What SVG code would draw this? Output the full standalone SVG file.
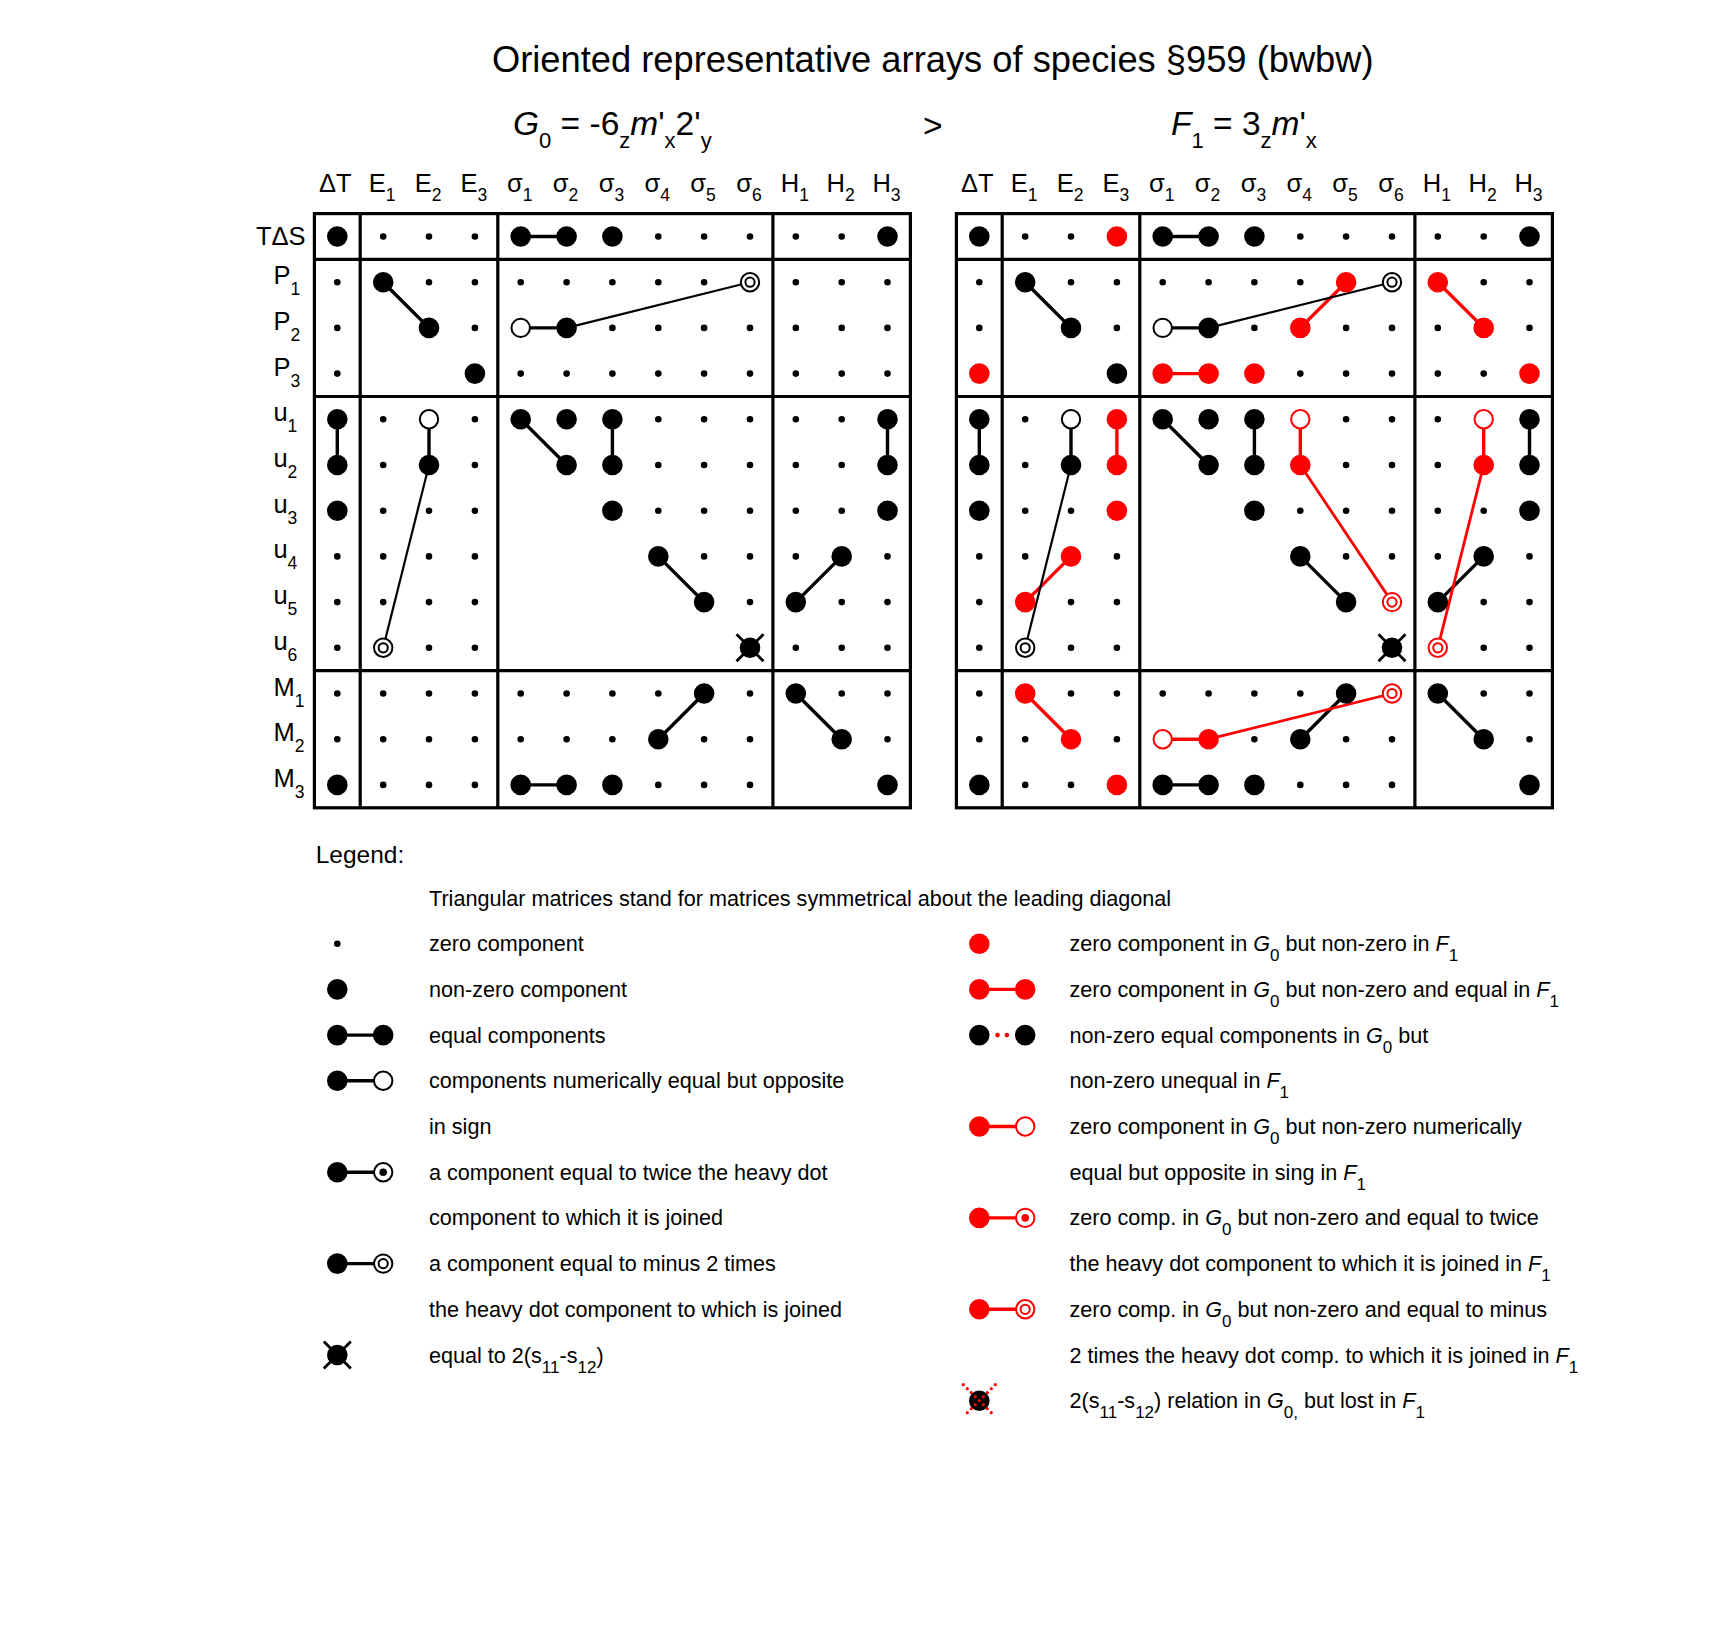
<svg xmlns="http://www.w3.org/2000/svg" width="1715" height="1626" viewBox="0 0 1715 1626">
<style>
text{font-family:'Liberation Sans',Arial,Helvetica,sans-serif;fill:#000}
.ttl{font-size:36.3px}
.sub{font-size:33.5px}
.s20{font-size:22px}
.hd{font-size:25.5px;text-anchor:middle}
.rl{font-size:25.5px}
.s16{font-size:17.5px}
.lg{font-size:21.6px}
.s15{font-size:17px}
.i{font-style:italic}
.grid{fill:none;stroke:#000;stroke-width:3.2}
.zd{fill:none;stroke:#000;stroke-width:6.6;stroke-linecap:round}
.bd{fill:none;stroke:#000;stroke-width:20.6;stroke-linecap:round}
.rd{fill:none;stroke:#f00;stroke-width:20.6;stroke-linecap:round}
.ck{fill:none;stroke:#000;stroke-width:3.4}
.cr{fill:none;stroke:#f00;stroke-width:3.4}
.lk{fill:none;stroke:#000;stroke-width:2.2}
.lr{fill:none;stroke:#f00;stroke-width:2.8}
</style>
<defs>
<circle id="oc" r="9.2" fill="#fff" stroke-width="2"/>
<g id="dr" fill="#fff" stroke-width="2"><circle r="9.2"/><circle r="4.6"/></g>
<g id="dt" stroke-width="2"><circle r="9.2" fill="#fff"/><circle r="3.8" stroke="none"/></g>
<g id="xx"><circle r="10.3" fill="#000"/><path d="M-13.5-13.5L13.5 13.5M13.5-13.5L-13.5 13.5" stroke="#000" stroke-width="2.8"/></g>
</defs>
<rect width="1715" height="1626" fill="#fff"/>

<g id="title">
<text class="ttl" x="932.8" y="72" text-anchor="middle">Oriented representative arrays of species §959 (bwbw)</text>
<text class="sub" x="513" y="135"><tspan class="i">G</tspan><tspan class="s20" dy="13">0</tspan><tspan dy="-13"> = -6</tspan><tspan class="s20" dy="13">z</tspan><tspan class="i" dy="-13">m</tspan><tspan>'</tspan><tspan class="s20" dy="13">x</tspan><tspan dy="-13">2'</tspan><tspan class="s20" dy="13">y</tspan></text>
<text class="sub" x="923" y="137">&gt;</text>
<text class="sub" x="1171" y="135"><tspan class="i">F</tspan><tspan class="s20" dy="13">1</tspan><tspan dy="-13"> = 3</tspan><tspan class="s20" dy="13">z</tspan><tspan class="i" dy="-13">m</tspan><tspan>'</tspan><tspan class="s20" dy="13">x</tspan></text>
</g>

<g id="table-G0">
<g id="G0-grid" class="grid">
<rect x="314.4" y="213.6" width="596" height="594.2"/>
<path d="M360.2 213.6V807.8M497.8 213.6V807.8M772.9 213.6V807.8M314.4 259.4H910.4M314.4 396.5H910.4M314.4 670.7H910.4"/>
</g>
<g id="G0-columns">
<text class="hd" x="335.3" y="191.7">ΔT</text>
<text class="hd" x="382.2" y="191.7">E<tspan class="s16" dy="9">1</tspan></text>
<text class="hd" x="428" y="191.7">E<tspan class="s16" dy="9">2</tspan></text>
<text class="hd" x="473.9" y="191.7">E<tspan class="s16" dy="9">3</tspan></text>
<text class="hd" x="519.7" y="191.7">σ<tspan class="s16" dy="9">1</tspan></text>
<text class="hd" x="565.6" y="191.7">σ<tspan class="s16" dy="9">2</tspan></text>
<text class="hd" x="611.4" y="191.7">σ<tspan class="s16" dy="9">3</tspan></text>
<text class="hd" x="657.3" y="191.7">σ<tspan class="s16" dy="9">4</tspan></text>
<text class="hd" x="703.1" y="191.7">σ<tspan class="s16" dy="9">5</tspan></text>
<text class="hd" x="749" y="191.7">σ<tspan class="s16" dy="9">6</tspan></text>
<text class="hd" x="794.8" y="191.7">H<tspan class="s16" dy="9">1</tspan></text>
<text class="hd" x="840.7" y="191.7">H<tspan class="s16" dy="9">2</tspan></text>
<text class="hd" x="886.5" y="191.7">H<tspan class="s16" dy="9">3</tspan></text>
</g>
<g id="G0-rows">
<text class="rl" x="256" y="245">TΔS</text>
<text class="rl" x="273.4" y="284.2">P<tspan class="s16" dy="11">1</tspan></text>
<text class="rl" x="273.4" y="329.9">P<tspan class="s16" dy="11">2</tspan></text>
<text class="rl" x="273.4" y="375.6">P<tspan class="s16" dy="11">3</tspan></text>
<text class="rl" x="273.4" y="421.3">u<tspan class="s16" dy="11">1</tspan></text>
<text class="rl" x="273.4" y="467">u<tspan class="s16" dy="11">2</tspan></text>
<text class="rl" x="273.4" y="512.7">u<tspan class="s16" dy="11">3</tspan></text>
<text class="rl" x="273.4" y="558.4">u<tspan class="s16" dy="11">4</tspan></text>
<text class="rl" x="273.4" y="604.1">u<tspan class="s16" dy="11">5</tspan></text>
<text class="rl" x="273.4" y="649.8">u<tspan class="s16" dy="11">6</tspan></text>
<text class="rl" x="273.4" y="695.5">M<tspan class="s16" dy="11">1</tspan></text>
<text class="rl" x="273.4" y="741.2">M<tspan class="s16" dy="11">2</tspan></text>
<text class="rl" x="273.4" y="786.9">M<tspan class="s16" dy="11">3</tspan></text>
</g>
<g id="G0-connectors">
<path class="ck" d="M520.7 236.5H566.6M383.2 282.2L429 327.9M520.7 327.9H566.6M337.3 419.3V465M429 419.3V465M520.7 419.3L566.6 465M612.4 419.3V465M887.5 419.3V465M658.3 556.4L704.1 602.1M841.7 556.4L795.8 602.1M704.1 693.5L658.3 739.2M795.8 693.5L841.7 739.2M520.7 784.9H566.6"/>
<path class="lk" d="M566.6 327.9L750 282.2"/>
<path class="lk" stroke-width="1.7" d="M429 465L383.2 647.8"/>
</g>
<g id="G0-components">
<path class="zd" d="M383.2 236.5h0M429 236.5h0M474.9 236.5h0M658.3 236.5h0M704.1 236.5h0M750 236.5h0M795.8 236.5h0M841.7 236.5h0
M337.3 282.2h0M429 282.2h0M474.9 282.2h0M520.7 282.2h0M566.6 282.2h0M612.4 282.2h0M658.3 282.2h0M704.1 282.2h0M795.8 282.2h0M841.7 282.2h0M887.5 282.2h0
M337.3 327.9h0M474.9 327.9h0M612.4 327.9h0M658.3 327.9h0M704.1 327.9h0M750 327.9h0M795.8 327.9h0M841.7 327.9h0M887.5 327.9h0
M337.3 373.6h0M520.7 373.6h0M566.6 373.6h0M612.4 373.6h0M658.3 373.6h0M704.1 373.6h0M750 373.6h0M795.8 373.6h0M841.7 373.6h0M887.5 373.6h0
M383.2 419.3h0M474.9 419.3h0M658.3 419.3h0M704.1 419.3h0M750 419.3h0M795.8 419.3h0M841.7 419.3h0
M383.2 465h0M474.9 465h0M658.3 465h0M704.1 465h0M750 465h0M795.8 465h0M841.7 465h0
M383.2 510.7h0M429 510.7h0M474.9 510.7h0M658.3 510.7h0M704.1 510.7h0M750 510.7h0M795.8 510.7h0M841.7 510.7h0
M337.3 556.4h0M383.2 556.4h0M429 556.4h0M474.9 556.4h0M704.1 556.4h0M750 556.4h0M795.8 556.4h0M887.5 556.4h0
M337.3 602.1h0M383.2 602.1h0M429 602.1h0M474.9 602.1h0M750 602.1h0M841.7 602.1h0M887.5 602.1h0
M337.3 647.8h0M429 647.8h0M474.9 647.8h0M795.8 647.8h0M841.7 647.8h0M887.5 647.8h0
M337.3 693.5h0M383.2 693.5h0M429 693.5h0M474.9 693.5h0M520.7 693.5h0M566.6 693.5h0M612.4 693.5h0M658.3 693.5h0M750 693.5h0M841.7 693.5h0M887.5 693.5h0
M337.3 739.2h0M383.2 739.2h0M429 739.2h0M474.9 739.2h0M520.7 739.2h0M566.6 739.2h0M612.4 739.2h0M704.1 739.2h0M750 739.2h0M887.5 739.2h0
M383.2 784.9h0M429 784.9h0M474.9 784.9h0M658.3 784.9h0M704.1 784.9h0M750 784.9h0"/>
<path class="bd" d="M337.3 236.5h0M520.7 236.5h0M566.6 236.5h0M612.4 236.5h0M887.5 236.5h0M383.2 282.2h0M429 327.9h0M566.6 327.9h0M474.9 373.6h0M337.3 419.3h0M520.7 419.3h0M566.6 419.3h0M612.4 419.3h0M887.5 419.3h0M337.3 465h0M429 465h0M566.6 465h0M612.4 465h0M887.5 465h0M337.3 510.7h0M612.4 510.7h0M887.5 510.7h0M658.3 556.4h0M841.7 556.4h0M704.1 602.1h0M795.8 602.1h0M704.1 693.5h0M795.8 693.5h0M658.3 739.2h0M841.7 739.2h0M337.3 784.9h0M520.7 784.9h0M566.6 784.9h0M612.4 784.9h0M887.5 784.9h0"/>
<use href="#oc" x="520.7" y="327.9" stroke="#000"/>
<use href="#oc" x="429" y="419.3" stroke="#000"/>
<use href="#dr" x="750" y="282.2" stroke="#000"/>
<use href="#dr" x="383.2" y="647.8" stroke="#000"/>
<use href="#xx" x="750" y="647.8"/>
</g>
</g>

<g id="table-F1" transform="translate(642 0)">
<g id="F1-grid" class="grid">
<rect x="314.4" y="213.6" width="596" height="594.2"/>
<path d="M360.2 213.6V807.8M497.8 213.6V807.8M772.9 213.6V807.8M314.4 259.4H910.4M314.4 396.5H910.4M314.4 670.7H910.4"/>
</g>
<g id="F1-columns">
<text class="hd" x="335.3" y="191.7">ΔT</text>
<text class="hd" x="382.2" y="191.7">E<tspan class="s16" dy="9">1</tspan></text>
<text class="hd" x="428" y="191.7">E<tspan class="s16" dy="9">2</tspan></text>
<text class="hd" x="473.9" y="191.7">E<tspan class="s16" dy="9">3</tspan></text>
<text class="hd" x="519.7" y="191.7">σ<tspan class="s16" dy="9">1</tspan></text>
<text class="hd" x="565.6" y="191.7">σ<tspan class="s16" dy="9">2</tspan></text>
<text class="hd" x="611.4" y="191.7">σ<tspan class="s16" dy="9">3</tspan></text>
<text class="hd" x="657.3" y="191.7">σ<tspan class="s16" dy="9">4</tspan></text>
<text class="hd" x="703.1" y="191.7">σ<tspan class="s16" dy="9">5</tspan></text>
<text class="hd" x="749" y="191.7">σ<tspan class="s16" dy="9">6</tspan></text>
<text class="hd" x="794.8" y="191.7">H<tspan class="s16" dy="9">1</tspan></text>
<text class="hd" x="840.7" y="191.7">H<tspan class="s16" dy="9">2</tspan></text>
<text class="hd" x="886.5" y="191.7">H<tspan class="s16" dy="9">3</tspan></text>
</g>
<g id="F1-connectors">
<path class="ck" d="M520.7 236.5H566.6M383.2 282.2L429 327.9M520.7 327.9H566.6M337.3 419.3V465M429 419.3V465M520.7 419.3L566.6 465M612.4 419.3V465M887.5 419.3V465M658.3 556.4L704.1 602.1M841.7 556.4L795.8 602.1M704.1 693.5L658.3 739.2M795.8 693.5L841.7 739.2M520.7 784.9H566.6"/>
<path class="cr" d="M704.1 282.2L658.3 327.9M795.8 282.2L841.7 327.9M520.7 373.6H566.6M474.9 419.3V465M658.3 419.3V465M841.7 419.3V465M429 556.4L383.2 602.1M383.2 693.5L429 739.2M520.7 739.2H566.6"/>
<path class="lk" d="M566.6 327.9L750 282.2M429 465L383.2 647.8"/>
<path class="lr" d="M658.3 465L750 602.1M841.7 465L795.8 647.8M566.6 739.2L750 693.5"/>
</g>
<g id="F1-components">
<path class="zd" d="M383.2 236.5h0M429 236.5h0M658.3 236.5h0M704.1 236.5h0M750 236.5h0M795.8 236.5h0M841.7 236.5h0
M337.3 282.2h0M429 282.2h0M474.9 282.2h0M520.7 282.2h0M566.6 282.2h0M612.4 282.2h0M658.3 282.2h0M841.7 282.2h0M887.5 282.2h0
M337.3 327.9h0M474.9 327.9h0M612.4 327.9h0M704.1 327.9h0M750 327.9h0M795.8 327.9h0M887.5 327.9h0
M658.3 373.6h0M704.1 373.6h0M750 373.6h0M795.8 373.6h0M841.7 373.6h0
M383.2 419.3h0M704.1 419.3h0M750 419.3h0M795.8 419.3h0
M383.2 465h0M704.1 465h0M750 465h0M795.8 465h0
M383.2 510.7h0M429 510.7h0M658.3 510.7h0M704.1 510.7h0M750 510.7h0M795.8 510.7h0M841.7 510.7h0
M337.3 556.4h0M383.2 556.4h0M474.9 556.4h0M704.1 556.4h0M750 556.4h0M795.8 556.4h0M887.5 556.4h0
M337.3 602.1h0M429 602.1h0M474.9 602.1h0M841.7 602.1h0M887.5 602.1h0
M337.3 647.8h0M429 647.8h0M474.9 647.8h0M841.7 647.8h0M887.5 647.8h0
M337.3 693.5h0M429 693.5h0M474.9 693.5h0M520.7 693.5h0M566.6 693.5h0M612.4 693.5h0M658.3 693.5h0M841.7 693.5h0M887.5 693.5h0
M337.3 739.2h0M383.2 739.2h0M474.9 739.2h0M612.4 739.2h0M704.1 739.2h0M750 739.2h0M887.5 739.2h0
M383.2 784.9h0M429 784.9h0M658.3 784.9h0M704.1 784.9h0M750 784.9h0"/>
<path class="bd" d="M337.3 236.5h0M520.7 236.5h0M566.6 236.5h0M612.4 236.5h0M887.5 236.5h0M383.2 282.2h0M429 327.9h0M566.6 327.9h0M474.9 373.6h0M337.3 419.3h0M520.7 419.3h0M566.6 419.3h0M612.4 419.3h0M887.5 419.3h0M337.3 465h0M429 465h0M566.6 465h0M612.4 465h0M887.5 465h0M337.3 510.7h0M612.4 510.7h0M887.5 510.7h0M658.3 556.4h0M841.7 556.4h0M704.1 602.1h0M795.8 602.1h0M704.1 693.5h0M795.8 693.5h0M658.3 739.2h0M841.7 739.2h0M337.3 784.9h0M520.7 784.9h0M566.6 784.9h0M612.4 784.9h0M887.5 784.9h0"/>
<path class="rd" d="M474.9 236.5h0M704.1 282.2h0M795.8 282.2h0M658.3 327.9h0M841.7 327.9h0M337.3 373.6h0M520.7 373.6h0M566.6 373.6h0M612.4 373.6h0M887.5 373.6h0M474.9 419.3h0M474.9 465h0M658.3 465h0M841.7 465h0M474.9 510.7h0M429 556.4h0M383.2 602.1h0M383.2 693.5h0M429 739.2h0M566.6 739.2h0M474.9 784.9h0"/>
<use href="#oc" x="520.7" y="327.9" stroke="#000"/>
<use href="#oc" x="429" y="419.3" stroke="#000"/>
<use href="#oc" x="658.3" y="419.3" stroke="#f00"/>
<use href="#oc" x="841.7" y="419.3" stroke="#f00"/>
<use href="#oc" x="520.7" y="739.2" stroke="#f00"/>
<use href="#dr" x="750" y="282.2" stroke="#000"/>
<use href="#dr" x="383.2" y="647.8" stroke="#000"/>
<use href="#dr" x="750" y="602.1" stroke="#f00"/>
<use href="#dr" x="795.8" y="647.8" stroke="#f00"/>
<use href="#dr" x="750" y="693.5" stroke="#f00"/>
<use href="#xx" x="750" y="647.8"/>
</g>
</g>

<g id="legend">
<text x="315.7" y="863" font-size="24.5">Legend:</text>
<text class="lg" x="429" y="906">Triangular matrices stand for matrices symmetrical about the leading diagonal</text>
<g id="legend-left">
<path class="ck" d="M337.3 1035.1H383.2M337.3 1080.8H383.2M337.3 1172.2H383.2M337.3 1263.6H383.2"/>
<path class="zd" d="M337.3 943.7h0"/>
<path class="bd" d="M337.3 989.4h0M337.3 1035.1h0M383.2 1035.1h0M337.3 1080.8h0M337.3 1172.2h0M337.3 1263.6h0"/>
<use href="#oc" x="383.2" y="1080.8" stroke="#000"/>
<use href="#dt" x="383.2" y="1172.2" stroke="#000" fill="#000"/>
<use href="#dr" x="383.2" y="1263.6" stroke="#000"/>
<use href="#xx" x="337.3" y="1355"/>
<text class="lg" x="429" y="951.2">zero component</text>
<text class="lg" x="429" y="996.9">non-zero component</text>
<text class="lg" x="429" y="1042.6">equal components</text>
<text class="lg" x="429" y="1088.3">components numerically equal but opposite</text>
<text class="lg" x="429" y="1134">in sign</text>
<text class="lg" x="429" y="1179.7">a component equal to twice the heavy dot</text>
<text class="lg" x="429" y="1225.4">component to which it is joined</text>
<text class="lg" x="429" y="1271.1">a component equal to minus 2 times</text>
<text class="lg" x="429" y="1316.8">the heavy dot component to which is joined</text>
<text class="lg" x="429" y="1362.5">equal to 2(s<tspan class="s15" dy="10">11</tspan><tspan dy="-10">-s</tspan><tspan class="s15" dy="10">12</tspan><tspan dy="-10">)</tspan></text>
</g>
<g id="legend-right">
<path class="cr" d="M979.3 989.4H1025.2M979.3 1126.5H1025.2M979.3 1217.9H1025.2M979.3 1309.3H1025.2"/>
<path class="rd" d="M979.3 943.7h0M979.3 989.4h0M1025.2 989.4h0M979.3 1126.5h0M979.3 1217.9h0M979.3 1309.3h0"/>
<path class="bd" d="M979.3 1035.1h0M1025.2 1035.1h0"/>
<path d="M997.5 1035.1h0M1006.9 1035.1h0" stroke="#f00" stroke-width="4.6" stroke-linecap="round"/>
<use href="#oc" x="1025.2" y="1126.5" stroke="#f00"/>
<use href="#dt" x="1025.2" y="1217.9" stroke="#f00" fill="#f00"/>
<use href="#dr" x="1025.2" y="1309.3" stroke="#f00"/>
<circle cx="979.3" cy="1400.7" r="10.3" fill="#000"/>
<path d="M963.3 1384.7L995.3 1416.7M995.3 1384.7L963.3 1416.7" stroke="#f00" stroke-width="3.2" stroke-linecap="round" stroke-dasharray="0 5.657"/>
<text class="lg" x="1069.5" y="951.2">zero component in <tspan class="i">G</tspan><tspan class="s15" dy="10">0</tspan><tspan dy="-10"> but non-zero in </tspan><tspan class="i">F</tspan><tspan class="s15" dy="10">1</tspan></text>
<text class="lg" x="1069.5" y="996.9">zero component in <tspan class="i">G</tspan><tspan class="s15" dy="10">0</tspan><tspan dy="-10"> but non-zero and equal in </tspan><tspan class="i">F</tspan><tspan class="s15" dy="10">1</tspan></text>
<text class="lg" x="1069.5" y="1042.6">non-zero equal components in <tspan class="i">G</tspan><tspan class="s15" dy="10">0</tspan><tspan dy="-10"> but</tspan></text>
<text class="lg" x="1069.5" y="1088.3">non-zero unequal in <tspan class="i">F</tspan><tspan class="s15" dy="10">1</tspan></text>
<text class="lg" x="1069.5" y="1134">zero component in <tspan class="i">G</tspan><tspan class="s15" dy="10">0</tspan><tspan dy="-10"> but non-zero numerically</tspan></text>
<text class="lg" x="1069.5" y="1179.7">equal but opposite in sing in <tspan class="i">F</tspan><tspan class="s15" dy="10">1</tspan></text>
<text class="lg" x="1069.5" y="1225.4">zero comp. in <tspan class="i">G</tspan><tspan class="s15" dy="10">0</tspan><tspan dy="-10"> but non-zero and equal to twice</tspan></text>
<text class="lg" x="1069.5" y="1271.1">the heavy dot component to which it is joined in <tspan class="i">F</tspan><tspan class="s15" dy="10">1</tspan></text>
<text class="lg" x="1069.5" y="1316.8">zero comp. in <tspan class="i">G</tspan><tspan class="s15" dy="10">0</tspan><tspan dy="-10"> but non-zero and equal to minus</tspan></text>
<text class="lg" x="1069.5" y="1362.5">2 times the heavy dot comp. to which it is joined in <tspan class="i">F</tspan><tspan class="s15" dy="10">1</tspan></text>
<text class="lg" x="1069.5" y="1408.2">2(s<tspan class="s15" dy="10">11</tspan><tspan dy="-10">-s</tspan><tspan class="s15" dy="10">12</tspan><tspan dy="-10">) relation in </tspan><tspan class="i">G</tspan><tspan class="s15" dy="10">0,</tspan><tspan dy="-10"> but lost in </tspan><tspan class="i">F</tspan><tspan class="s15" dy="10">1</tspan></text>
</g>
</g>
</svg>
